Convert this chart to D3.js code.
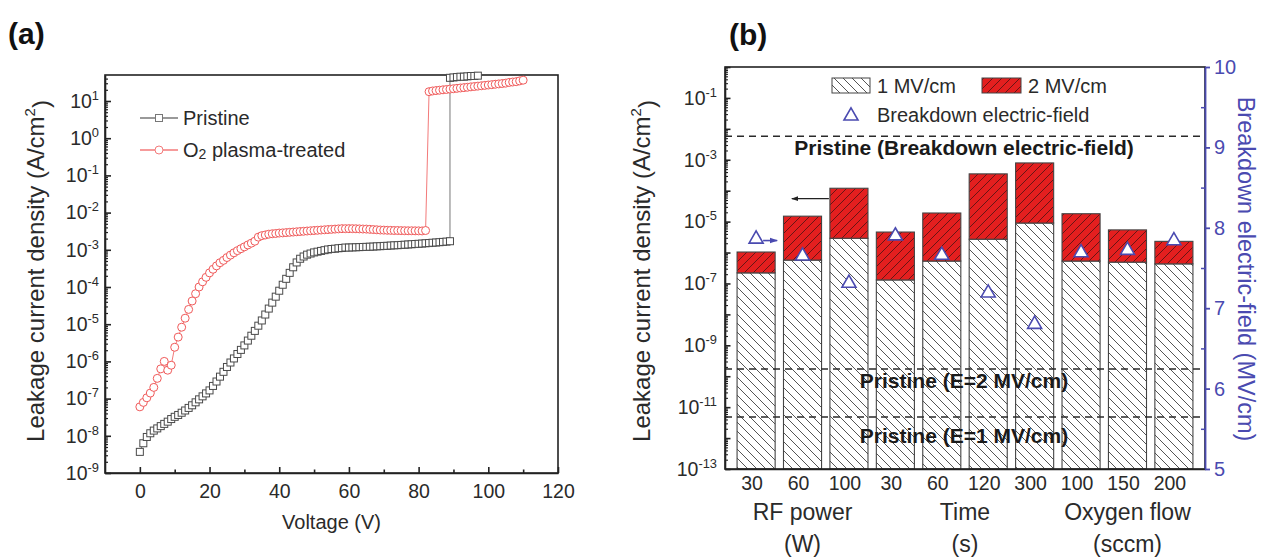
<!DOCTYPE html>
<html><head><meta charset="utf-8">
<script src="https://cdn.jsdelivr.net/npm/d3@7"></script>
<style>
body{margin:0;background:#fff}
svg{display:block}
text{font-family:"Liberation Sans",Arial,Helvetica,sans-serif}
</style>
</head><body>
<svg id="c" width="1266" height="558"></svg>
<script>
// ================= DATA =================
// Panel (a): leakage current density (A/cm^2) vs voltage (V)
const voltageTicks = [0, 20, 40, 60, 80, 100, 120];
const voltageMinorTicks = [10, 30, 50, 70, 90, 110];
const pristineV = [0,1,2,3,4,5,6,7,8,9,10,11,12,13,14,15,16,17,18,19,20,21,22,23,24,25,26,27,28,29,
  30,31,32,33,34,35,36,37,38,39,40,41,42,43,44,45,46,47,48,49,50,51,52,53,54,55,56,57,58,59,
  60,61,62,63,64,65,66,67,68,69,70,71,72,73,74,75,76,77,78,79,80,81,82,83,84,85,86,87,88,89,
  89,90,91,92,93,94,95,96,97];
const pristineJ = [3.7e-9,6.3e-9,9.3e-9,1.17e-8,1.38e-8,1.58e-8,1.82e-8,2.09e-8,2.4e-8,2.82e-8,
  3.24e-8,3.63e-8,4.17e-8,4.79e-8,5.62e-8,6.61e-8,7.94e-8,9.55e-8,1.15e-7,1.38e-7,
  1.66e-7,2.19e-7,2.88e-7,3.89e-7,5.25e-7,7.08e-7,9.33e-7,1.2e-6,1.58e-6,2.04e-6,
  2.69e-6,3.63e-6,4.9e-6,6.61e-6,9.12e-6,1.26e-5,1.82e-5,2.63e-5,3.8e-5,5.5e-5,
  7.94e-5,1.15e-4,1.66e-4,2.4e-4,3.39e-4,4.57e-4,5.75e-4,6.61e-4,7.41e-4,7.94e-4,
  8.51e-4,8.91e-4,9.33e-4,9.77e-4,1.02e-3,1.05e-3,1.07e-3,1.1e-3,1.12e-3,1.15e-3,
  1.15e-3,1.16e-3,1.17e-3,1.18e-3,1.19e-3,1.2e-3,1.21e-3,1.22e-3,1.24e-3,1.25e-3,
  1.27e-3,1.28e-3,1.3e-3,1.32e-3,1.33e-3,1.35e-3,1.37e-3,1.39e-3,1.41e-3,1.43e-3,
  1.45e-3,1.47e-3,1.5e-3,1.52e-3,1.55e-3,1.57e-3,1.6e-3,1.63e-3,1.66e-3,1.7e-3,
  42,43,44,45,45,46,47,47,48];
const plasmaV = [0,1,2,3,4,5,6,7,8,9,10,11,12,13,14,15,16,17,18,19,20,21,22,23,24,25,26,27,28,29,
  30,31,32,33,34,35,36,37,38,39,40,41,42,43,44,45,46,47,48,49,50,51,52,53,54,55,56,57,58,59,
  60,61,62,63,64,65,66,67,68,69,70,71,72,73,74,75,76,77,78,79,80,81,82,
  83,84,85,86,87,88,89,90,91,92,93,94,95,96,97,98,99,100,101,102,103,104,105,106,107,108,109,110];
const plasmaJ = [6.0e-8,7.9e-8,1.05e-7,1.41e-7,2.0e-7,3.5e-7,6.3e-7,1.0e-6,5.8e-7,7.9e-7,
  2.4e-6,4.5e-6,8.3e-6,1.45e-5,2.5e-5,4.2e-5,6.6e-5,1.0e-4,1.38e-4,1.82e-4,
  2.4e-4,3.0e-4,3.7e-4,4.5e-4,5.2e-4,6.2e-4,7.2e-4,8.3e-4,9.5e-4,1.07e-3,
  1.2e-3,1.35e-3,1.51e-3,1.7e-3,2.19e-3,2.4e-3,2.5e-3,2.63e-3,2.7e-3,2.75e-3,
  2.82e-3,2.85e-3,2.9e-3,2.95e-3,3.0e-3,3.05e-3,3.1e-3,3.15e-3,3.2e-3,3.25e-3,
  3.3e-3,3.35e-3,3.4e-3,3.45e-3,3.5e-3,3.55e-3,3.6e-3,3.65e-3,3.7e-3,3.7e-3,
  3.7e-3,3.7e-3,3.68e-3,3.65e-3,3.62e-3,3.6e-3,3.55e-3,3.5e-3,3.45e-3,3.4e-3,
  3.38e-3,3.35e-3,3.33e-3,3.3e-3,3.3e-3,3.28e-3,3.26e-3,3.25e-3,3.25e-3,3.24e-3,
  3.23e-3,3.22e-3,3.3e-3,
  17.8,18.6,19.1,19.5,20,20.4,20.9,21.4,21.9,22.4,22.9,23.4,24,24.5,25.1,25.7,26.3,26.9,27.5,28.2,
  28.8,29.5,30.2,31.6,32.4,33.1,34.7,36.3];
const seriesNamesA = ["Pristine", "plasma-treated"];

// Panel (b)
const categories = ["30","60","100","30","60","120","300","100","150","200"];
const groupNames = ["RF power", "Time", "Oxygen flow"];
const groupUnits = ["(W)", "(s)", "(sccm)"];
const groupSizes = [3, 4, 3];
const leak1MV = [2.2e-7, 5.7e-7, 2.9e-6, 1.3e-7, 5.3e-7, 2.7e-6, 9.0e-6, 5.3e-7, 4.9e-7, 4.3e-7];
const leak2MV = [1.04e-6, 1.5e-5, 1.2e-4, 4.6e-6, 1.9e-5, 3.5e-4, 7.9e-4, 1.8e-5, 5.4e-6, 2.3e-6];
const breakdownField = [7.86, 7.65, 7.31, 7.90, 7.66, 7.19, 6.80, 7.69, 7.72, 7.84];
const pristineBreakdownField = 9.14;        // MV/cm (right axis)
const pristineLeakE2 = 1.7e-10;             // A/cm^2 (left axis)
const pristineLeakE1 = 4.8e-12;             // A/cm^2 (left axis)
const refLabels = ["Pristine (Breakdown electric-field)", "Pristine (E=2 MV/cm)", "Pristine (E=1 MV/cm)"];
const legendLabelsB = ["1 MV/cm", "2 MV/cm", "Breakdown electric-field"];
const rightTicks = [5, 6, 7, 8, 9, 10];
const rightMinorTicks = [5.5, 6.5, 7.5, 8.5, 9.5];

// ================= STYLE =================
const INK = "#222", TXT = "#2a2a2a";
const RED = "#e41f1f", BLUE = "#4a4ab0";
const GRAY_MK = "#4a4a4a";
const PINK = "#f05a5a";

const svg = d3.select("#c");
const defs = svg.append("defs");

function supLabels(sel, fs) {
  sel.each(function(d) {
    const e = Math.round(Math.log10(d));
    const t = d3.select(this);
    t.text(null);
    t.append("tspan").text("10");
    t.append("tspan").attr("dy", "-0.62em").attr("font-size", (fs * 0.66) + "px").text(String(e));
  });
}
function logMinor(lo, hi, max) {
  const out = [];
  for (let e = lo; e <= hi; e++) for (let m = 2; m <= 9; m++) { const v = m * Math.pow(10, e); if (v < max) out.push(v); }
  return out;
}
function decades(lo, hi) { const out = []; for (let e = lo; e <= hi; e++) out.push(Math.pow(10, e)); return out; }
function styleAxis(g, color, w) {
  g.selectAll("path.domain").attr("stroke", color).attr("stroke-width", w);
  g.selectAll(".tick line").attr("stroke", color).attr("stroke-width", w);
  g.selectAll(".tick text").attr("fill", color === INK ? TXT : color);
}

// ================= PANEL (a) =================
const ax = d3.scaleLinear().domain([-10, 120]).range([105, 558]);
const ay = d3.scaleLog().domain([1e-9, 50]).range([473, 75]);
const ga = svg.append("g");

svg.append("text").attr("x", 8).attr("y", 44).attr("font-size", 30).attr("font-weight", "bold").attr("fill", "#111").text("(a)");

ga.append("rect").attr("x", ax.range()[0]).attr("y", ay.range()[1])
  .attr("width", ax.range()[1] - ax.range()[0]).attr("height", ay.range()[0] - ay.range()[1])
  .attr("fill", "none").attr("stroke", INK).attr("stroke-width", 1.6);

const axX = ga.append("g").attr("transform", `translate(0,${ay.range()[0]})`)
  .call(d3.axisBottom(ax).tickValues(voltageTicks).tickSizeInner(-6).tickSizeOuter(0).tickPadding(11))
  .attr("font-size", 19.5);
styleAxis(axX, INK, 1.6);
const axXm = ga.append("g").attr("transform", `translate(0,${ay.range()[0]})`)
  .call(d3.axisBottom(ax).tickValues(voltageMinorTicks).tickSize(-3.5).tickFormat(""));
axXm.select("path.domain").remove();
styleAxis(axXm, INK, 1.6);

const axY = ga.append("g").attr("transform", `translate(${ax.range()[0]},0)`)
  .call(d3.axisLeft(ay).tickValues(decades(-9, 1)).tickSizeInner(-6).tickSizeOuter(0).tickPadding(6))
  .attr("font-size", 19.5);
styleAxis(axY, INK, 1.6);
supLabels(axY.selectAll(".tick text"), 19.5);
const axYm = ga.append("g").attr("transform", `translate(${ax.range()[0]},0)`)
  .call(d3.axisLeft(ay).tickValues(logMinor(-9, 1, 50)).tickSize(-3).tickFormat(""));
axYm.select("path.domain").remove();
styleAxis(axYm, INK, 1.2);

ga.append("text").attr("transform", `translate(${(ax.range()[0] + ax.range()[1]) / 2},529)`)
  .attr("text-anchor", "middle").attr("font-size", 20).attr("fill", TXT).text("Voltage (V)");
const yta = ga.append("text").attr("transform", "translate(44,271) rotate(-90)")
  .attr("text-anchor", "middle").attr("font-size", 24).attr("fill", TXT);
yta.append("tspan").text("Leakage current density (A/cm");
yta.append("tspan").attr("dy", "-0.6em").attr("font-size", 15).text("2");
yta.append("tspan").attr("dy", "0.6em").text(")");

const pristine = pristineV.map((v, i) => ({ v, j: pristineJ[i] }));
const plasma = plasmaV.map((v, i) => ({ v, j: plasmaJ[i] }));
const lineA = d3.line().x(d => ax(d.v)).y(d => ay(d.j));

ga.append("path").datum(pristine).attr("d", lineA).attr("fill", "none").attr("stroke", "#777").attr("stroke-width", 1);
ga.append("path").datum(plasma).attr("d", lineA).attr("fill", "none").attr("stroke", "#f37a7a").attr("stroke-width", 1);

ga.append("g").selectAll("rect").data(pristine).join("rect")
  .attr("x", d => ax(d.v) - 3.5).attr("y", d => ay(d.j) - 3.5).attr("width", 7).attr("height", 7)
  .attr("fill", "#fff").attr("stroke", GRAY_MK).attr("stroke-width", 1);
ga.append("g").selectAll("circle").data(plasma).join("circle")
  .attr("cx", d => ax(d.v)).attr("cy", d => ay(d.j)).attr("r", 4)
  .attr("fill", "#fff").attr("stroke", PINK).attr("stroke-width", 1);

// legend (a)
const legA = ga.append("g");
[[118, "#777", "sq"], [150, "#f37a7a", "ci"]].forEach(([ly, col, mk]) => {
  legA.append("line").attr("x1", 140).attr("x2", 178).attr("y1", ly).attr("y2", ly).attr("stroke", col).attr("stroke-width", 1.3);
  if (mk === "sq") legA.append("rect").attr("x", 155.5).attr("y", ly - 3.5).attr("width", 7).attr("height", 7).attr("fill", "#fff").attr("stroke", col);
  else legA.append("circle").attr("cx", 159).attr("cy", ly).attr("r", 4).attr("fill", "#fff").attr("stroke", col);
});
legA.append("text").attr("x", 183).attr("y", 118).attr("dy", "0.36em").attr("font-size", 20).attr("fill", TXT).text(seriesNamesA[0]);
const l2 = legA.append("text").attr("x", 183).attr("y", 150).attr("dy", "0.36em").attr("font-size", 20).attr("fill", TXT);
l2.append("tspan").text("O");
l2.append("tspan").attr("font-size", 14).attr("dy", 2).text("2");
l2.append("tspan").attr("dy", -2).text(" " + seriesNamesA[1]);

// ================= PANEL (b) =================
const bx = d3.scaleBand().domain(d3.range(categories.length)).range([725, 1205]).paddingInner(0.18).paddingOuter(0.26);
const byL = d3.scaleLog().domain([1e-13, 1]).range([469, 67]);
const byR = d3.scaleLinear().domain([5, 10]).range([469, 67]);
const gb = svg.append("g");
const bw = bx.bandwidth();

svg.append("text").attr("x", 729).attr("y", 45).attr("font-size", 30).attr("font-weight", "bold").attr("fill", "#111").text("(b)");

// patterns
const p1 = defs.append("pattern").attr("id", "hatch1").attr("patternUnits", "userSpaceOnUse").attr("width", 9).attr("height", 9);
p1.append("rect").attr("width", 9).attr("height", 9).attr("fill", "#fff");
p1.append("path").attr("d", "M-1,-1 L10,10 M-1,8 L1,10 M8,-1 L10,1").attr("stroke", "#555").attr("stroke-width", 1);
const p2 = defs.append("pattern").attr("id", "hatch2").attr("patternUnits", "userSpaceOnUse").attr("width", 9).attr("height", 9);
p2.append("rect").attr("width", 9).attr("height", 9).attr("fill", RED);
p2.append("path").attr("d", "M-1,10 L10,-1 M-1,1 L1,-1 M8,10 L10,8").attr("stroke", "#5a1414").attr("stroke-width", 0.9);

defs.append("marker").attr("id", "arrK").attr("viewBox", "0 0 10 10").attr("refX", 9).attr("refY", 5)
  .attr("markerWidth", 6).attr("markerHeight", 6).attr("orient", "auto")
  .append("path").attr("d", "M0,1.5 L10,5 L0,8.5 Z").attr("fill", "#222");
defs.append("marker").attr("id", "arrB").attr("viewBox", "0 0 10 10").attr("refX", 9).attr("refY", 5)
  .attr("markerWidth", 5).attr("markerHeight", 5).attr("orient", "auto")
  .append("path").attr("d", "M0,1.5 L10,5 L0,8.5 Z").attr("fill", BLUE);

// bars
const bars = gb.append("g");
bars.selectAll("rect.b1").data(leak1MV).join("rect").attr("class", "b1")
  .attr("x", (d, i) => bx(i)).attr("width", bw)
  .attr("y", d => byL(d)).attr("height", d => byL.range()[0] - byL(d))
  .attr("fill", "url(#hatch1)").attr("stroke", "#444").attr("stroke-width", 1.1);
bars.selectAll("rect.b2").data(leak2MV).join("rect").attr("class", "b2")
  .attr("x", (d, i) => bx(i)).attr("width", bw)
  .attr("y", d => byL(d)).attr("height", (d, i) => byL(leak1MV[i]) - byL(d))
  .attr("fill", "url(#hatch2)").attr("stroke", "#444").attr("stroke-width", 1.1);

// frame
gb.append("rect").attr("x", 725).attr("y", 67).attr("width", 480).attr("height", 402)
  .attr("fill", "none").attr("stroke", INK).attr("stroke-width", 1.6);

// dashed reference lines
const refY = [byR(pristineBreakdownField), byL(pristineLeakE2), byL(pristineLeakE1)];
const refOff = [19, 19, 26];
refY.forEach((yv, i) => {
  gb.append("line").attr("x1", 725).attr("x2", 1205).attr("y1", yv).attr("y2", yv)
    .attr("stroke", "#2a2a2a").attr("stroke-width", 1.5).attr("stroke-dasharray", "7,5");
  gb.append("text").attr("x", 964).attr("y", yv + refOff[i]).attr("text-anchor", "middle")
    .attr("font-size", 21).attr("font-weight", "bold").attr("fill", "#1a1a1a").text(refLabels[i]);
});

// left axis
const bL = gb.append("g").attr("transform", "translate(725,0)")
  .call(d3.axisLeft(byL).tickValues(decades(-13, 0)).tickSizeInner(-5.5).tickSizeOuter(0).tickPadding(8))
  .attr("font-size", 19.5);
styleAxis(bL, INK, 1.6);
bL.selectAll(".tick text").each(function(d) {
  const e = Math.round(Math.log10(d));
  if (e % 2 === 0) d3.select(this).remove();
});
supLabels(bL.selectAll(".tick text"), 19.5);
const bLm = gb.append("g").attr("transform", "translate(725,0)")
  .call(d3.axisLeft(byL).tickValues(logMinor(-13, -1, 1)).tickSize(-3).tickFormat(""));
bLm.select("path.domain").remove();
styleAxis(bLm, INK, 1.1);

// bottom axis
const bB = gb.append("g").attr("transform", "translate(0,469)")
  .call(d3.axisBottom(bx).tickSize(0).tickSizeOuter(0).tickPadding(7).tickFormat(i => categories[i]))
  .attr("font-size", 19.5);
styleAxis(bB, INK, 1.6);
bB.selectAll(".tick text").attr("dx", -4);

// group labels
let start = 0;
groupSizes.forEach((n, gi) => {
  const cx = (bx(start) + bx(start + n - 1) + bw) / 2;
  gb.append("text").attr("x", cx).attr("y", 520).attr("text-anchor", "middle").attr("font-size", 23).attr("fill", TXT).text(groupNames[gi]);
  gb.append("text").attr("x", cx).attr("y", 552).attr("text-anchor", "middle").attr("font-size", 23).attr("fill", TXT).text(groupUnits[gi]);
  start += n;
});

// right axis
const bR = gb.append("g").attr("transform", "translate(1205,0)")
  .call(d3.axisRight(byR).tickValues(rightTicks).tickFormat(d3.format("d")).tickSizeInner(5).tickSizeOuter(0).tickPadding(4))
  .attr("font-size", 20);
styleAxis(bR, BLUE, 1.8);
const bRm = gb.append("g").attr("transform", "translate(1205,0)")
  .call(d3.axisRight(byR).tickValues(rightMinorTicks).tickSize(-4).tickFormat(""));
bRm.select("path.domain").remove();
styleAxis(bRm, BLUE, 1.5);

// axis titles
const ytb = gb.append("text").attr("transform", "translate(650,271) rotate(-90)")
  .attr("text-anchor", "middle").attr("font-size", 24).attr("fill", TXT);
ytb.append("tspan").text("Leakage current density (A/cm");
ytb.append("tspan").attr("dy", "-0.6em").attr("font-size", 15).text("2");
ytb.append("tspan").attr("dy", "0.6em").text(")");
gb.append("text").attr("transform", "translate(1238,269) rotate(90)")
  .attr("text-anchor", "middle").attr("font-size", 23.5).attr("fill", BLUE).text("Breakdown electric-field (MV/cm)");

// triangles
const tri = d3.symbol(d3.symbolTriangle, 85);
gb.append("g").selectAll("path").data(breakdownField).join("path")
  .attr("transform", (d, i) => `translate(${bx(i) + bw / 2},${byR(d)})`)
  .attr("d", tri).attr("fill", "#fff").attr("stroke", BLUE).attr("stroke-width", 1.6);

// arrows
const ty0 = byR(breakdownField[0]) + 1.5;
gb.append("line").attr("x1", bx(0) + bw / 2 + 7).attr("x2", bx(0) + bw + 2).attr("y1", ty0).attr("y2", ty0)
  .attr("stroke", BLUE).attr("stroke-width", 1.6).attr("marker-end", "url(#arrB)");
const ay0 = byL(5.5e-5);
gb.append("line").attr("x1", bx(2) - 1).attr("x2", bx(1) + bw * 0.22).attr("y1", ay0).attr("y2", ay0)
  .attr("stroke", "#222").attr("stroke-width", 1.2).attr("marker-end", "url(#arrK)");

// legend (b)
const lg = gb.append("g");
lg.append("rect").attr("x", 832).attr("y", 78).attr("width", 38).attr("height", 15).attr("fill", "url(#hatch1)").attr("stroke", "#444");
lg.append("text").attr("x", 877).attr("y", 86).attr("dy", "0.36em").attr("font-size", 20).attr("fill", TXT).text(legendLabelsB[0]);
lg.append("rect").attr("x", 982).attr("y", 78).attr("width", 39).attr("height", 15).attr("fill", "url(#hatch2)").attr("stroke", "#444");
lg.append("text").attr("x", 1028).attr("y", 86).attr("dy", "0.36em").attr("font-size", 20).attr("fill", TXT).text(legendLabelsB[1]);
lg.append("path").attr("transform", "translate(851,116)").attr("d", tri).attr("fill", "#fff").attr("stroke", BLUE).attr("stroke-width", 1.6);
lg.append("text").attr("x", 877).attr("y", 115).attr("dy", "0.36em").attr("font-size", 20).attr("fill", TXT).text(legendLabelsB[2]);
</script>
</body></html>
